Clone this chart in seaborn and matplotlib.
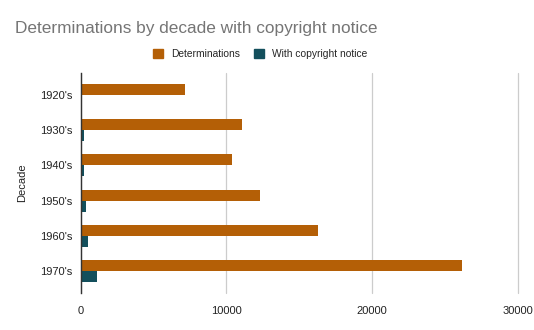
import matplotlib
matplotlib.use("Agg")
import matplotlib.pyplot as plt
import seaborn as sns
import pandas as pd
from matplotlib.patches import Patch

decades = ["1920's", "1930's", "1940's", "1950's", "1960's", "1970's"]
determinations = [7200, 11100, 10400, 12300, 16300, 26200]
with_notice = [120, 260, 260, 380, 520, 1110]
series_names = ["Determinations", "With copyright notice"]
colors = ["#b45f06", "#134f5c"]
xticks = [0, 10000, 20000, 30000]

df = pd.DataFrame({
    "Decade": decades * 2,
    "Value": determinations + with_notice,
    "Series": [series_names[0]] * len(decades) + [series_names[1]] * len(decades),
})

sns.set_theme(style="white")
plt.rcParams['font.family'] = ['Liberation Sans', 'DejaVu Sans']

fig = plt.figure(figsize=(5.34, 3.30), dpi=100)
ax = fig.add_axes([80.5/534, 1-293/330, (517.5-80.5)/534, (293-73)/330])

sns.barplot(data=df, y="Decade", x="Value", hue="Series", order=decades,
            hue_order=series_names, palette=colors, width=0.62, gap=0,
            orient="h", ax=ax, legend=False, saturation=1, linewidth=0)

ax.set_xlim(0, 30000)
ax.set_ylim(5.62, -0.62)
ax.set_xticks(xticks)
ax.set_xticklabels([str(v) for v in xticks], fontsize=8, color="#222222")
ax.tick_params(axis="y", labelsize=8, labelcolor="#222222", length=0, pad=6)
ax.tick_params(axis="x", length=0, pad=9)
ax.grid(axis="x", color="#cccccc", linewidth=0.9)
for gl in ax.get_xgridlines():
    gl.set_clip_on(False)
ax.set_axisbelow(True)
for s in ["top", "right", "bottom"]:
    ax.spines[s].set_visible(False)
ax.spines["left"].set_color("#333333")
ax.spines["left"].set_linewidth(1.0)
ax.set_xlabel("")
ax.set_ylabel("Decade", fontsize=8, color="#222222", labelpad=9)

fig.text(15/534, 1-28/330, "Determinations by decade with copyright notice",
         fontsize=12.4, color="#757575", va="center", ha="left")

handles = [Patch(facecolor=c, edgecolor=c) for c in colors]
fig.legend(handles, series_names, loc="center", bbox_to_anchor=(260/534, 1-54/330),
           ncol=2, frameon=False, fontsize=7.4, handlelength=0.95, handleheight=0.95,
           handletextpad=0.75, columnspacing=1.4)

fig.savefig("out.png", dpi=100)
